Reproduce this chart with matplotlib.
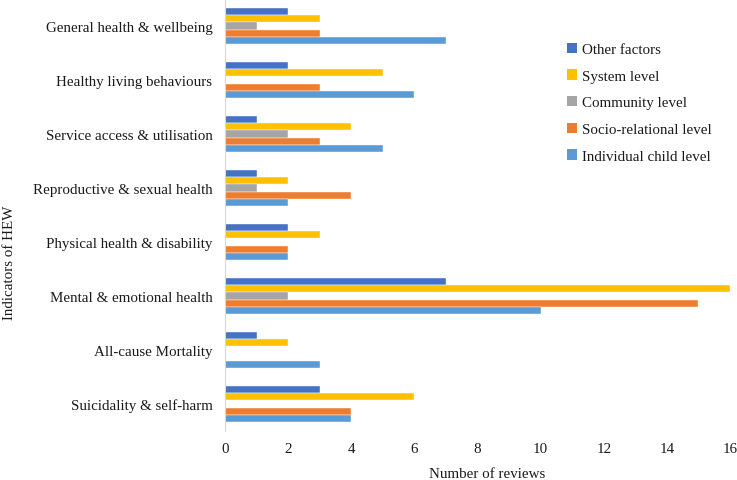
import numpy as np
import matplotlib.pyplot as plt
from matplotlib.patches import Patch

plt.rcParams['font.family'] = ['Liberation Serif', 'DejaVu Serif']

# --- data ---
indicators = ['General health & wellbeing', 'Healthy living behaviours',
              'Service access & utilisation', 'Reproductive & sexual health',
              'Physical health & disability', 'Mental & emotional health',
              'All-cause Mortality', 'Suicidality & self-harm']
series_names = ['Other factors', 'System level', 'Community level',
                'Socio-relational level', 'Individual child level']
other_factors = [2, 2, 1, 1, 2, 7, 1, 3]
system_level = [3, 5, 4, 2, 3, 16, 2, 6]
community_level = [1, 0, 2, 1, 0, 2, 0, 0]
socio_relational = [3, 3, 3, 4, 2, 15, 0, 4]
individual_child = [7, 6, 5, 2, 2, 10, 3, 4]
colors = ['#4472C4', '#FFC000', '#A5A5A5', '#ED7D31', '#5B9BD5']

fig = plt.figure(figsize=(7.37, 4.81), dpi=100)
ax = fig.add_axes([225 / 737, 1 - 432 / 481, 505 / 737, 432 / 481])

y = np.arange(len(indicators))
h = 0.135
all_series = [other_factors, system_level, community_level, socio_relational, individual_child]
for i, (vals, name, c) in enumerate(zip(all_series, series_names, colors)):
    ax.barh(y + (i - 2) * h, vals, height=h, color=c, label=name,
            edgecolor='white', linewidth=0.3)

ax.set_ylim(len(indicators) - 0.5, -0.5)
ax.set_xlim(0, 16)
ax.set_xticks(range(0, 17, 2))
ax.set_yticks(y)
ax.set_yticklabels(indicators)
ax.tick_params(axis='both', length=0, labelsize=10.8, colors='#1a1a1a')
ax.tick_params(axis='y', pad=9)
ax.tick_params(axis='x', pad=8)
for s in ['top', 'right', 'bottom']:
    ax.spines[s].set_visible(False)
ax.spines['left'].set_color('#D9D9D9')

fig.text(487 / 737, 1 - 475 / 481, 'Number of reviews', ha='center', va='center',
         fontsize=10.8, color='#1a1a1a')
fig.text(10 / 737, 1 - 263 / 481, 'Indicators of HEW', ha='center', va='center',
         rotation=90, fontsize=10.8, color='#1a1a1a')

handles = [Patch(facecolor=c, label=n) for c, n in zip(colors, series_names)]
fig.legend(handles=handles, loc='upper left', bbox_to_anchor=(553 / 737, 1 - 30 / 481),
           frameon=False, fontsize=10.8, handlelength=0.7, handleheight=0.7,
           handletextpad=0.35, labelspacing=0.88, labelcolor='#1a1a1a')

fig.savefig('out.png', dpi=100)
